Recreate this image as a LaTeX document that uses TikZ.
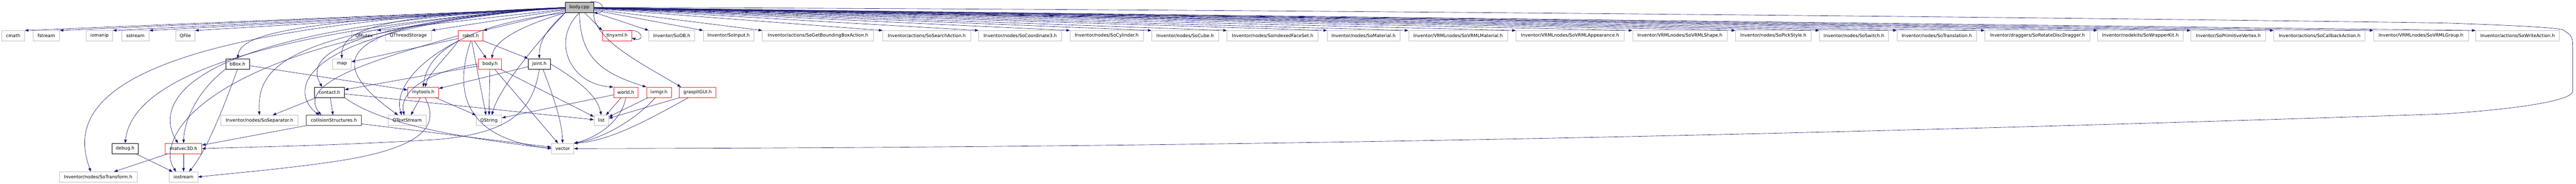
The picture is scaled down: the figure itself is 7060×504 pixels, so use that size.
\documentclass[tikz,border=0pt]{standalone}
\usepackage{fontspec}
\setmainfont{DejaVu Sans}
\usepackage{xcolor}
\usetikzlibrary{arrows.meta,positioning}

\definecolor{edgeblue}{HTML}{191970}
\definecolor{boxgray}{HTML}{BFBFBF}
\definecolor{boxred}{HTML}{FF2020}

\begin{document}
\begin{tikzpicture}[x=1pt,y=-1pt,
    box/.style={draw, rectangle, minimum height=28pt, inner sep=0pt, line width=1pt,
        font=\fontsize{12.4}{14}\selectfont},
    sys/.style={box, draw=boxgray},
    proj/.style={box, draw=black},
    redbox/.style={box, draw=boxred},
    dep/.style={draw=edgeblue, line width=0.9pt, -{Triangle[length=10pt,width=7pt]}}]
\useasboundingbox (0,0) rectangle (7060,504);

% the file itself
\node[proj, fill=boxgray, minimum width=77pt] (body) at (1588,20.5) {body.cpp};

% first row of includes
\node[sys, minimum width=63pt] (cmath) at (36,98) {cmath};
\node[sys, minimum width=72pt] (fstream) at (127,98) {fstream};
\node[sys, minimum width=72pt] (iomanip) at (273,98) {iomanip};
\node[sys, minimum width=75pt] (sstream) at (371,98) {sstream};
\node[sys, minimum width=52pt] (qfile) at (508,98) {QFile};
\node[sys, minimum width=70pt] (qmutex) at (998,98) {QMutex};
\node[sys, minimum width=126pt] (qthread) at (1119,98) {QThreadStorage};
\node[redbox, minimum width=68pt] (robot) at (1290,98) {robot.h};
\node[redbox, minimum width=80pt] (tinyxml) at (1691,98) {tinyxml.h};
\node[sys, minimum width=125pt] (sodb) at (1841,98) {Inventor/SoDB.h};
\node[sys, minimum width=139pt] (soinput) at (1997,98) {Inventor/SoInput.h};
\node[sys, minimum width=305pt] (sobbox) at (2242,98) {Inventor/actions/SoGetBoundingBoxAction.h};
\node[sys, minimum width=241pt] (sosearch) at (2540,98) {Inventor/actions/SoSearchAction.h};
\node[sys, minimum width=227pt] (socoord) at (2796,98) {Inventor/nodes/SoCoordinate3.h};
\node[sys, minimum width=200pt] (socyl) at (3033,98) {Inventor/nodes/SoCylinder.h};
\node[sys, minimum width=183pt] (socube) at (3248,98) {Inventor/nodes/SoCube.h};
\node[sys, minimum width=250pt] (soifs) at (3488,98) {Inventor/nodes/SoIndexedFaceSet.h};
\node[sys, minimum width=199pt] (somat) at (3737,98) {Inventor/nodes/SoMaterial.h};
\node[sys, minimum width=271pt] (vrmlmat) at (3996,98) {Inventor/VRMLnodes/SoVRMLMaterial.h};
\node[sys, minimum width=296pt] (vrmlapp) at (4303,98) {Inventor/VRMLnodes/SoVRMLAppearance.h};
\node[sys, minimum width=259pt] (vrmlshape) at (4604,98) {Inventor/VRMLnodes/SoVRMLShape.h};
\node[sys, minimum width=207pt] (sopick) at (4860,98) {Inventor/nodes/SoPickStyle.h};
\node[sys, minimum width=189pt] (soswitch) at (5081,98) {Inventor/nodes/SoSwitch.h};
\node[sys, minimum width=218pt] (sotrans) at (5308,98) {Inventor/nodes/SoTranslation.h};
\node[sys, minimum width=288pt] (sorotdisc) at (5584,98) {Inventor/draggers/SoRotateDiscDragger.h};
\node[sys, minimum width=235pt] (sowrapper) at (5866,98) {Inventor/nodekits/SoWrapperKit.h};
\node[sys, minimum width=205pt] (soprimvert) at (6107,98) {Inventor/SoPrimitiveVertex.h};
\node[sys, minimum width=250pt] (socallback) at (6357,98) {Inventor/actions/SoCallbackAction.h};
\node[sys, minimum width=260pt] (vrmlgroup) at (6635,98) {Inventor/VRMLnodes/SoVRMLGroup.h};
\node[sys, minimum width=229pt] (sowrite) at (6900,98) {Inventor/actions/SoWriteAction.h};

% lower rows
\node[proj, minimum width=65pt] (bbox) at (651,175) {bBox.h};
\node[sys, minimum width=51pt] (map) at (937,175) {map};
\node[redbox, minimum width=63pt] (bodyh) at (1343,175) {body.h};
\node[proj, minimum width=60pt] (joint) at (1478,175) {joint.h};

\node[proj, minimum width=82pt] (contact) at (903,253) {contact.h};
\node[redbox, minimum width=85pt] (mytools) at (1160,253) {mytools.h};
\node[redbox, minimum width=67pt] (world) at (1715,253) {world.h};
\node[redbox, minimum width=68pt] (ivmgr) at (1806,253) {ivmgr.h};
\node[redbox, minimum width=100pt] (gui) at (1912,253) {graspitGUI.h};

\node[sys, minimum width=212pt] (sosep) at (711,330) {Inventor/nodes/SoSeparator.h};
\node[proj, draw=black!75, minimum width=151pt] (coll) at (915,330) {collisionStructures.h};
\node[sys, minimum width=104pt] (qtext) at (1116,330) {QTextStream};
\node[sys, minimum width=70pt] (qstring) at (1340,330) {QString};
\node[sys, minimum width=40pt] (list) at (1648,330) {list};

\node[proj, minimum width=73pt] (debug) at (343,407) {debug.h};
\node[redbox, minimum width=100pt] (matvec) at (503,407) {matvec3D.h};
\node[sys, minimum width=61pt] (vector) at (1542,407) {vector};

\node[sys, minimum width=213pt] (sotransf) at (269,485) {Inventor/nodes/SoTransform.h};
\node[sys, minimum width=78pt] (iostream) at (503,485) {iostream};

% body.cpp to the first row
\foreach \t in {cmath,fstream,iomanip,sstream,qfile,qmutex,qthread,robot}
    \draw[dep] (body) -- (\t.north east);
\foreach \t in {tinyxml,sodb,soinput,sobbox,sosearch,socoord,socyl,socube,soifs,somat,vrmlmat,vrmlapp,vrmlshape,sopick,soswitch,sotrans,sorotdisc,sowrapper,soprimvert,socallback,vrmlgroup,sowrite}
    \draw[dep] (body) -- (\t.north west);

% body.cpp to the lower rows
\draw[dep] (body.west) .. controls (1010,40) and (935,90) .. (map.north);
\draw[dep] (body.west) .. controls (760,55) and (660,100) .. (bbox.north);
\draw[dep] (body.west) .. controls (950,60) and (860,150) .. ([xshift=-25pt]qtext.north);
\draw[dep] (body.west) .. controls (760,75) and (705,190) .. (sosep.north);
\draw[dep] (body.west) .. controls (800,75) and (790,250) .. ([xshift=-40pt]coll.north);
\draw[dep] (body.west) .. controls (840,75) and (850,180) .. ([xshift=-20pt]contact.north);
\draw[dep] (body.west) .. controls (620,85) and (360,240) .. (debug.north);
\draw[dep] (body.west) .. controls (440,75) and (430,300) .. ([xshift=-15pt]matvec.north);
\draw[dep] (body.west) .. controls (560,100) and (420,380) .. ([xshift=-20pt]iostream.north);
\draw[dep] (body.west) .. controls (220,75) and (195,320) .. ([xshift=-20pt]sotransf.north);
\draw[dep] (body.south west) .. controls (1430,70) and (1355,110) .. ([xshift=5pt]bodyh.north);
\draw[dep] (body.south west) .. controls (1260,70) and (1170,150) .. (mytools.north);
\draw[dep] (body.south west) .. controls (1500,80) and (1478,110) .. (joint.north);
\draw[dep] (body.south west) .. controls (1450,140) and (1365,250) .. ([xshift=8pt]qstring.north);
\draw[dep] (body.south) .. controls (1510,110) and (1560,230) .. (world.north west);
\draw[dep] (body.south) .. controls (1590,160) and (1650,200) .. (ivmgr.north west);
\draw[dep] (body.south east) .. controls (1625,110) and (1770,180) .. ([xshift=5pt]gui.north west);
\draw[dep] (body.east) .. controls (3500,25) and (5800,50) .. (6700,63)
    .. controls (6900,70) and (7000,75) .. (7025,82) .. controls (7051,100) .. (7051,140)
    -- (7051,250) .. controls (7051,270) and (6950,295) .. (6700,312)
    .. controls (4500,385) and (3000,405) .. (vector.east);
\draw[dep] ([xshift=-12pt]body.north east) .. controls (1655,-3) and (1665,36) .. (body.south east);
\draw[dep] ([xshift=-10pt]tinyxml.north east) .. controls (1765,80) and (1765,115) .. ([yshift=-6pt]tinyxml.east);

% robot.h
\draw[dep] (robot) -- (map);
\draw[dep] (robot.west) .. controls (1000,170) and (815,230) .. ([xshift=-35pt]coll.north);
\draw[dep] (robot.south west) .. controls (1140,170) and (1080,250) .. ([xshift=-15pt]qtext.north);
\draw[dep] (robot.south west) .. controls (1230,150) and (1175,200) .. ([xshift=5pt]mytools.north);
\draw[dep] (robot) -- (bodyh);
\draw[dep] (robot) -- (joint.north west);
\draw[dep] (robot) -- ([xshift=-8pt]qstring.north);
\draw[dep] (robot.south) .. controls (1240,260) and (1280,380) .. (vector.west);

% body.h
\draw[dep] (bodyh) -- (contact);
\draw[dep] (bodyh.west) .. controls (1150,200) and (1095,260) .. ([xshift=-8pt]qtext.north);
\draw[dep] (bodyh) -- (qstring);
\draw[dep] (bodyh) -- (vector);
\draw[dep] (bodyh) -- (list);

% joint.h
\draw[dep] (joint) -- (mytools);
\draw[dep] (joint.south) .. controls (1460,310) and (1390,365) .. (1200,382)
    .. controls (900,400) and (700,402) .. (matvec.east);
\draw[dep] ([xshift=10pt]joint.south) .. controls (1515,260) and (1540,330) .. (vector.north);
\draw[dep] (joint.east) .. controls (1620,240) and (1640,280) .. (list.north);

% mytools.h
\draw[dep] (mytools) -- ([xshift=10pt]qtext.north);
\draw[dep] (mytools) -- (qstring.north west);
\draw[dep] ([xshift=5pt]mytools.south) .. controls (1210,350) and (1150,410) .. (900,445)
    .. controls (750,466) and (600,478) .. (iostream.east);

% bBox.h
\draw[dep] (bbox) -- (mytools);
\draw[dep] (bbox.south west) .. controls (540,250) and (505,330) .. (matvec.north);
\draw[dep] (bbox.south) .. controls (600,330) and (560,420) .. ([xshift=15pt]iostream.north);

% contact.h
\draw[dep] (contact) -- (sosep);
\draw[dep] (contact) -- (coll);
\draw[dep] (contact) -- (list);
\draw[dep] (contact.south east) .. controls (1030,330) and (1200,370) .. (vector.west);

% collisionStructures.h, debug.h, matvec3D.h
\draw[dep] (coll) -- (matvec);
\draw[dep] (coll) -- (vector);
\draw[dep] (debug) -- (iostream);
\draw[dep] (matvec) -- (sotransf);
\draw[dep] (matvec) -- (iostream);

% world.h, ivmgr.h, graspitGUI.h
\draw[dep] (world) -- (qstring);
\draw[dep] (world) -- (list);
\draw[dep] (world.south) .. controls (1705,330) and (1640,375) .. (vector.north east);
\draw[dep] (ivmgr) -- (list);
\draw[dep] ([xshift=-10pt]ivmgr.south) .. controls (1740,330) and (1650,380) .. (vector.north east);
\draw[dep] (gui) -- (list);
\draw[dep] ([xshift=-25pt]gui.south) .. controls (1790,320) and (1680,385) .. (vector.north east);
\end{tikzpicture}
\end{document}
